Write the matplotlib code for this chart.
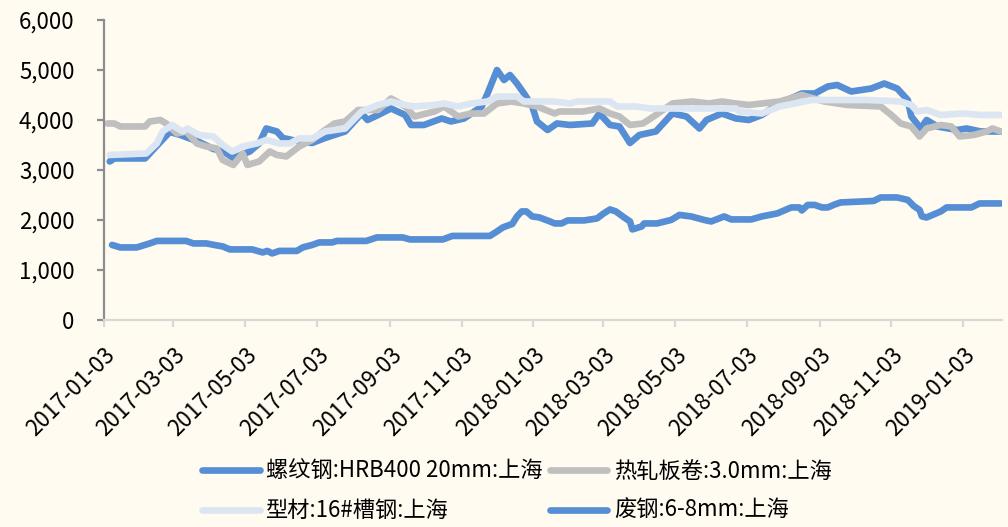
import matplotlib
matplotlib.use("Agg")
import matplotlib.pyplot as plt
from matplotlib.ticker import FuncFormatter
import pandas as pd

plt.rcParams['font.family'] = ['Noto Sans CJK SC', 'DejaVu Sans']

# 螺纹钢:HRB400 20mm:上海
rebar_dates = [
    "2017-01-08", "2017-01-12", "2017-02-07", "2017-02-20", "2017-02-28", "2017-03-09",
    "2017-03-25", "2017-04-06", "2017-04-14", "2017-04-23", "2017-05-07", "2017-05-15",
    "2017-05-21", "2017-05-30", "2017-06-04", "2017-06-18", "2017-06-29", "2017-07-10",
    "2017-07-27", "2017-08-10", "2017-08-15", "2017-08-24", "2017-09-04", "2017-09-16",
    "2017-09-21", "2017-10-02", "2017-10-17", "2017-10-25", "2017-11-05", "2017-11-20",
    "2017-11-25", "2017-12-03", "2017-12-09", "2017-12-14", "2017-12-20", "2017-12-26",
    "2018-01-02", "2018-01-06", "2018-01-15", "2018-01-23", "2018-02-03", "2018-02-22",
    "2018-02-28", "2018-03-09", "2018-03-17", "2018-03-26", "2018-04-03", "2018-04-17",
    "2018-05-01", "2018-05-13", "2018-05-24", "2018-05-30", "2018-06-12", "2018-06-24",
    "2018-07-05", "2018-07-16", "2018-07-31", "2018-08-19", "2018-08-30", "2018-09-10",
    "2018-09-18", "2018-09-30", "2018-10-17", "2018-10-28", "2018-11-08", "2018-11-17",
    "2018-11-20", "2018-11-28", "2018-12-03", "2018-12-12", "2018-12-29", "2019-01-06",
    "2019-01-18", "2019-02-04",
]
rebar_values = [
    3170, 3230, 3230, 3560, 3760, 3700,
    3560, 3420, 3380, 3240, 3370, 3530,
    3830, 3770, 3640, 3570, 3540, 3640,
    3770, 4130, 4000, 4100, 4230, 4100,
    3900, 3900, 4030, 3970, 4030, 4270,
    4530, 5000, 4800, 4900, 4730, 4530,
    4270, 3970, 3800, 3930, 3900, 3930,
    4130, 3900, 3870, 3540, 3700, 3770,
    4130, 4070, 3830, 4000, 4130, 4030,
    4000, 4100, 4330, 4530, 4530, 4670,
    4700, 4570, 4630, 4730, 4630, 4400,
    4070, 3830, 4000, 3870, 3800, 3830,
    3770, 3770,
]

# 热轧板卷:3.0mm:上海
hot_dates = [
    "2017-01-06", "2017-01-12", "2017-01-17", "2017-02-07", "2017-02-11", "2017-02-20",
    "2017-02-25", "2017-03-06", "2017-03-14", "2017-03-23", "2017-03-31", "2017-04-09",
    "2017-04-14", "2017-04-23", "2017-05-01", "2017-05-05", "2017-05-15", "2017-05-24",
    "2017-05-30", "2017-06-07", "2017-06-18", "2017-06-29", "2017-07-10", "2017-07-18",
    "2017-07-27", "2017-08-07", "2017-08-24", "2017-09-04", "2017-09-16", "2017-09-24",
    "2017-10-11", "2017-10-19", "2017-10-31", "2017-11-11", "2017-11-22", "2017-12-03",
    "2017-12-15", "2017-12-26", "2018-01-06", "2018-01-21", "2018-01-25", "2018-02-14",
    "2018-02-28", "2018-03-09", "2018-03-17", "2018-03-26", "2018-04-06", "2018-04-17",
    "2018-05-01", "2018-05-18", "2018-06-01", "2018-06-12", "2018-06-24", "2018-07-05",
    "2018-07-31", "2018-08-19", "2018-09-07", "2018-09-27", "2018-10-25", "2018-11-03",
    "2018-11-11", "2018-11-20", "2018-11-27", "2018-12-03", "2018-12-15", "2018-12-24",
    "2018-12-31", "2019-01-12", "2019-01-23", "2019-01-28", "2019-02-04",
]
hot_values = [
    3930, 3930, 3870, 3870, 3970, 4000,
    3930, 3730, 3770, 3530, 3470, 3430,
    3200, 3100, 3330, 3100, 3170, 3370,
    3300, 3270, 3470, 3600, 3800, 3930,
    3970, 4200, 4200, 4430, 4270, 4070,
    4170, 4270, 4070, 4130, 4130, 4330,
    4370, 4330, 4270, 4130, 4170, 4170,
    4230, 4130, 4070, 3900, 3930, 4100,
    4330, 4370, 4330, 4370, 4330, 4300,
    4370, 4500, 4370, 4300, 4270, 4100,
    3930, 3870, 3670, 3830, 3900, 3870,
    3670, 3700, 3770, 3830, 3770,
]

# 型材:16#槽钢:上海
section_dates = [
    "2017-01-08", "2017-02-08", "2017-02-17", "2017-02-22", "2017-03-02", "2017-03-11",
    "2017-03-15", "2017-03-25", "2017-04-06", "2017-04-14", "2017-04-22", "2017-05-01",
    "2017-05-13", "2017-05-21", "2017-06-01", "2017-06-10", "2017-06-18", "2017-06-29",
    "2017-07-10", "2017-07-27", "2017-08-10", "2017-08-24", "2017-09-04", "2017-09-16",
    "2017-09-24", "2017-10-11", "2017-10-19", "2017-10-31", "2017-11-11", "2017-11-25",
    "2017-12-03", "2017-12-20", "2017-12-26", "2018-01-21", "2018-02-03", "2018-02-09",
    "2018-03-09", "2018-03-15", "2018-03-31", "2018-04-12", "2018-06-24", "2018-06-27",
    "2018-07-16", "2018-07-31", "2018-08-13", "2018-08-27", "2018-10-14", "2018-11-11",
    "2018-11-20", "2018-11-25", "2018-12-03", "2018-12-15", "2019-01-03", "2019-01-18",
    "2019-02-04",
]
section_values = [
    3300, 3330, 3530, 3770, 3900, 3770,
    3830, 3700, 3670, 3500, 3370, 3470,
    3530, 3600, 3530, 3530, 3630, 3630,
    3770, 3830, 4170, 4300, 4370, 4300,
    4270, 4300, 4330, 4270, 4330, 4370,
    4470, 4470, 4370, 4370, 4330, 4370,
    4370, 4270, 4270, 4230, 4230, 4170,
    4130, 4270, 4330, 4400, 4400, 4370,
    4300, 4170, 4200, 4100, 4130, 4100,
    4100,
]

# 废钢:6-8mm:上海
scrap_dates = [
    "2017-01-10", "2017-01-17", "2017-01-31", "2017-02-11", "2017-02-17", "2017-03-14",
    "2017-03-20", "2017-03-31", "2017-04-09", "2017-04-14", "2017-04-20", "2017-05-09",
    "2017-05-18", "2017-05-22", "2017-05-26", "2017-06-01", "2017-06-16", "2017-06-21",
    "2017-06-29", "2017-07-05", "2017-07-16", "2017-07-20", "2017-08-14", "2017-08-23",
    "2017-09-14", "2017-09-20", "2017-10-18", "2017-10-26", "2017-11-27", "2017-12-03",
    "2017-12-08", "2017-12-16", "2017-12-20", "2017-12-24", "2017-12-28", "2018-01-02",
    "2018-01-08", "2018-01-17", "2018-01-21", "2018-01-27", "2018-02-01", "2018-02-15",
    "2018-02-26", "2018-03-03", "2018-03-09", "2018-03-14", "2018-03-21", "2018-03-26",
    "2018-03-28", "2018-04-05", "2018-04-07", "2018-04-18", "2018-04-30", "2018-05-07",
    "2018-05-17", "2018-05-28", "2018-06-03", "2018-06-14", "2018-06-20", "2018-07-07",
    "2018-07-16", "2018-07-29", "2018-08-10", "2018-08-17", "2018-08-19", "2018-08-24",
    "2018-08-30", "2018-09-05", "2018-09-10", "2018-09-16", "2018-09-21", "2018-10-19",
    "2018-10-25", "2018-11-08", "2018-11-17", "2018-11-22", "2018-11-27", "2018-11-29",
    "2018-12-03", "2018-12-15", "2018-12-20", "2019-01-10", "2019-01-17", "2019-02-04",
]
scrap_values = [
    1500, 1450, 1450, 1530, 1580, 1580,
    1530, 1530, 1490, 1470, 1410, 1410,
    1350, 1380, 1330, 1380, 1380, 1450,
    1500, 1550, 1550, 1580, 1580, 1650,
    1650, 1610, 1610, 1680, 1680, 1770,
    1850, 1920, 2070, 2170, 2170, 2070,
    2050, 1970, 1930, 1930, 1990, 1990,
    2030, 2120, 2210, 2170, 2050, 1970,
    1810, 1870, 1930, 1930, 2000, 2100,
    2070, 2000, 1970, 2070, 2010, 2010,
    2070, 2130, 2250, 2250, 2190, 2300,
    2300, 2250, 2250, 2310, 2350, 2380,
    2450, 2450, 2400, 2280, 2200, 2070,
    2050, 2170, 2250, 2250, 2330, 2330,
]

tick_labels = [
    "2017-01-03", "2017-03-03", "2017-05-03", "2017-07-03", "2017-09-03", "2017-11-03",
    "2018-01-03", "2018-03-03", "2018-05-03", "2018-07-03", "2018-09-03", "2018-11-03",
    "2019-01-03",
]
y_ticks = [0, 1000, 2000, 3000, 4000, 5000, 6000]

names = ["螺纹钢:HRB400 20mm:上海", "热轧板卷:3.0mm:上海", "型材:16#槽钢:上海", "废钢:6-8mm:上海"]

bg = "#FFFBF0"
blue = "#558ED5"
gray = "#BFBFBF"
light = "#DCE6F2"

fig = plt.figure(figsize=(10.08, 5.27), dpi=100, facecolor=bg)
ax = fig.add_axes([0.103, 0.393, 0.891, 0.569], facecolor=bg)

lw = 4.8
kw = dict(linewidth=lw, solid_joinstyle="round", solid_capstyle="round")
l1, = ax.plot(pd.to_datetime(rebar_dates), rebar_values, color=blue, **kw)
l2, = ax.plot(pd.to_datetime(hot_dates), hot_values, color=gray, **kw)
l3, = ax.plot(pd.to_datetime(section_dates), section_values, color=light, **kw)
l4, = ax.plot(pd.to_datetime(scrap_dates), scrap_values, color=blue, **kw)

ax.set_xlim(pd.Timestamp("2017-01-03"), pd.Timestamp("2019-02-05"))
ax.set_ylim(0, 6000)
ax.set_yticks(y_ticks)
ax.yaxis.set_major_formatter(FuncFormatter(lambda v, _: f"{int(v):,}"))

ax.set_xticks(pd.to_datetime(tick_labels))
ax.set_xticklabels(tick_labels, rotation=45, ha="right", va="top", rotation_mode="anchor")

for s in ["top", "right"]:
    ax.spines[s].set_visible(False)
ax.spines["left"].set_color("#8C8C8C")
ax.spines["left"].set_linewidth(1.6)
ax.spines["bottom"].set_color("#D9D9D9")
ax.spines["bottom"].set_linewidth(1.6)

ax.tick_params(axis="y", colors="#8C8C8C", length=5, width=1.6, pad=16, labelsize=16, labelcolor="black")
ax.tick_params(axis="x", colors="#D9D9D9", length=5, width=1.6, pad=12, labelsize=16, labelcolor="black")

fig.legend([l1, l3, l2, l4], [names[0], names[2], names[1], names[3]],
           loc="center", bbox_to_anchor=(517 / 1008, 1 - 491 / 527), ncol=2,
           frameon=False, fontsize=16, handlelength=2.6, handletextpad=0.3,
           columnspacing=0.3, labelspacing=0.75)

fig.savefig("out.png", dpi=100, facecolor=bg)
